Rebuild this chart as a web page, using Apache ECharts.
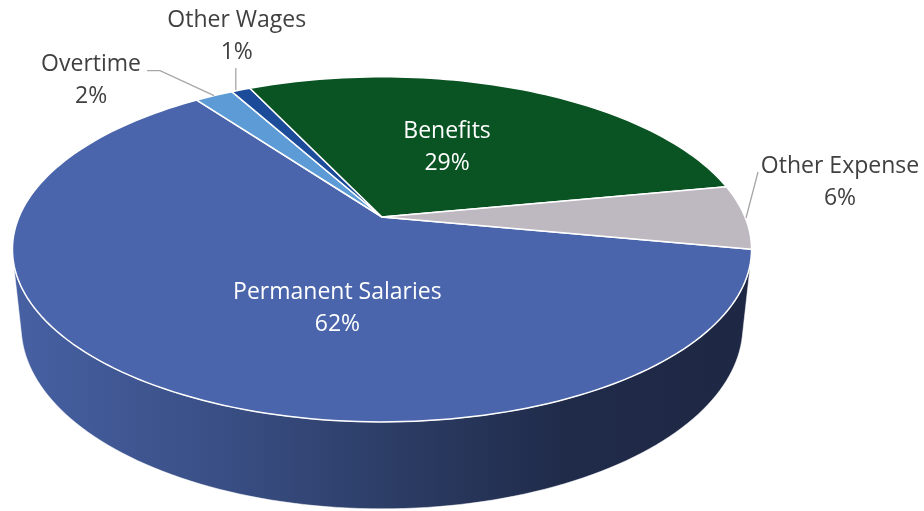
<!DOCTYPE html>
<html>
<head>
<meta charset="utf-8">
<script src="https://cdn.jsdelivr.net/npm/echarts@6/dist/echarts.min.js"></script>
<style>
  html, body { margin: 0; padding: 0; background: #ffffff; }
  #chart { width: 924px; height: 511px; }
</style>
</head>
<body>
<div id="chart"></div>
<script>
// Expense categories, in clockwise order around the pie
const categories = ['Permanent Salaries', 'Overtime', 'Other Wages', 'Benefits', 'Other Expense'];
// Share of total expense, percent
const shares = [62, 2, 1, 29, 6];
const sliceColors = ['#4A65AB', '#5C9BD5', '#1B4B99', '#0A5323', '#BEB8C1'];

// Label placement: inside labels sit at half radius, outside labels hang off the rim
const labelLayout = {
  'Permanent Salaries': { inside: true, dx: 61, dy: 15 },
  'Benefits':           { inside: true, dx: -11, dy: -1 },
  'Overtime':           { inside: false, dx: -123, dy: -15, leader: [[0, 0], [-54, -25], [-67, -25]] },
  'Other Wages':        { inside: false, dx: -4, dy: -53, leader: [[-5, 0], [-5, -22]] },
  'Other Expense':      { inside: false, dx: 95, dy: -35, leader: [[1, 1], [13, -45]] }
};

const FONT = { family: '"Open Sans", sans-serif', size: 23, lineHeight: 32 };

// Camera / disc geometry (perspective view of a tilted cylinder)
const VIEW = {
  cx: 382, cy: 217,       // screen position of the disc centre
  scale: 363,             // pixels per unit radius
  tilt: 27.3,             // elevation of the camera, degrees
  focal: 4.74,            // camera distance in radii
  depth: 0.24,            // disc thickness in radii
  start: -10.8            // angle where the first slice begins (deg, counter-clockwise from 3 o'clock)
};

const rad = Math.PI / 180;
const sinA = Math.sin(VIEW.tilt * rad), cosA = Math.cos(VIEW.tilt * rad);

function project(thetaDeg, r, z) {
  const t = thetaDeg * rad;
  const x = r * Math.cos(t), y = r * Math.sin(t);
  const toward = -y * cosA + z * sinA;
  const up = y * sinA + z * cosA;
  const s = VIEW.focal / (VIEW.focal - toward);
  return [VIEW.cx + VIEW.scale * x * s, VIEW.cy - VIEW.scale * up * s];
}

function shade(hex, k) {
  const n = parseInt(hex.slice(1), 16);
  const r = Math.round(((n >> 16) & 255) * k);
  const g = Math.round(((n >> 8) & 255) * k);
  const b = Math.round((n & 255) * k);
  return 'rgb(' + r + ',' + g + ',' + b + ')';
}

// Slice angular extents: clockwise from VIEW.start
const total = shares.reduce((a, b) => a + b, 0);
const extents = [];
(function () {
  let a = VIEW.start;
  shares.forEach(v => {
    const sweep = v / total * 360;
    extents.push([a - sweep, a]);   // [low, high] in degrees
    a -= sweep;
  });
})();

// Visible outer wall lies where the outward normal faces the camera
const silhouette = Math.asin(1 / (VIEW.focal * cosA)) / rad;
const wallLo = 180 + silhouette, wallHi = 360 - silhouette;

function arcPoints(a0, a1, r, z) {
  const pts = [];
  const n = Math.max(2, Math.ceil(Math.abs(a1 - a0) / 1.5));
  for (let i = 0; i <= n; i++) pts.push(project(a0 + (a1 - a0) * i / n, r, z));
  return pts;
}

function labelText(i) {
  return categories[i] + '\n' + Math.round(shares[i] / total * 100) + '%';
}

function renderSlice(params, api) {
  const i = params.dataIndex;
  const name = categories[i];
  const color = sliceColors[i];
  const [lo, hi] = extents[i];
  const children = [];

  // Outer wall, clipped to the part that faces the viewer
  for (let k = -1; k <= 1; k++) {
    const a0 = Math.max(lo + k * 360, wallLo);
    const a1 = Math.min(hi + k * 360, wallHi);
    if (a1 > a0) {
      const top = arcPoints(a0, a1, 1, 0);
      const bottom = arcPoints(a1, a0, 1, -VIEW.depth);
      children.push({
        type: 'polygon', z2: 1,
        shape: { points: top.concat(bottom) },
        style: {
          fill: new echarts.graphic.LinearGradient(VIEW.cx - VIEW.scale, 0, VIEW.cx + VIEW.scale, 0, [
            { offset: 0, color: shade(color, 0.95) },
            { offset: 0.3, color: shade(color, 0.76) },
            { offset: 0.55, color: shade(color, 0.57) },
            { offset: 0.75, color: shade(color, 0.43) },
            { offset: 1, color: shade(color, 0.40) }
          ], true),
          stroke: 'rgba(255,255,255,0.55)', lineWidth: 1
        }
      });
    }
  }

  // Top face
  const face = [project(0, 0, 0)].concat(arcPoints(lo, hi, 1, 0));
  children.push({
    type: 'polygon', z2: 5,
    shape: { points: face },
    style: { fill: color, stroke: '#ffffff', lineWidth: 1.5, lineJoin: 'round' }
  });

  // Label
  const mid = (lo + hi) / 2;
  const lay = labelLayout[name];
  const textStyle = {
    text: labelText(i),
    fontFamily: FONT.family, fontSize: FONT.size, lineHeight: FONT.lineHeight,
    align: 'center', verticalAlign: 'middle'
  };
  if (lay.inside) {
    const p = project(mid, 0.5, 0);
    children.push({
      type: 'text', z2: 10,
      style: Object.assign({ x: p[0] + lay.dx, y: p[1] + lay.dy, fill: '#ffffff' }, textStyle)
    });
  } else {
    const p = project(mid, 1, 0);
    children.push({
      type: 'polyline', z2: 8,
      shape: { points: lay.leader.map(d => [p[0] + d[0], p[1] + d[1]]) },
      style: { stroke: '#A6A6A6', lineWidth: 1.3, fill: null }
    });
    children.push({
      type: 'text', z2: 10,
      style: Object.assign({ x: p[0] + lay.dx, y: p[1] + lay.dy, fill: '#404040' }, textStyle)
    });
  }
  return { type: 'group', children: children };
}

const chart = echarts.init(document.getElementById('chart'), null, { renderer: 'canvas' });
chart.setOption({
  backgroundColor: '#ffffff',
  animation: false,
  series: [{
    type: 'custom',
    coordinateSystem: 'none',
    silent: true,
    renderItem: renderSlice,
    data: categories.map((c, i) => ({ name: c, value: shares[i] }))
  }]
});
</script>
</body>
</html>
